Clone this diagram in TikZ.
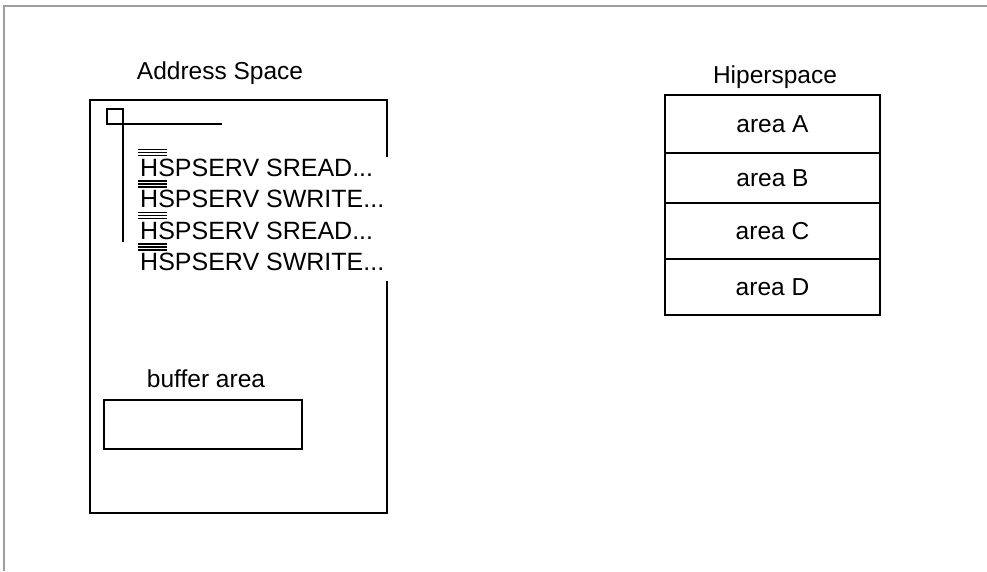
\documentclass[tikz,border=0pt]{standalone}
\usepackage{fontspec}
\setmainfont{Liberation Sans}
\begin{document}
\begin{tikzpicture}[x=1pt,y=-1pt,
  lbl/.style={font=\fontsize{24.5}{28}\selectfont, inner sep=0pt},
  cmd/.style={font=\fontsize{25}{28}\selectfont, inner sep=0pt},
  cell/.style={draw, line width=2.2pt, minimum width=215pt, inner sep=0pt, font=\fontsize{24.5}{28}\selectfont},
  bar/.style={line width=1.3pt},
  frameline/.style={draw=gray!75, line width=2pt},
  heavy/.style={line width=2.2pt}]
\useasboundingbox (0,0) rectangle (987,571);
% outer frame
\coordinate (fa) at (4,571);
\coordinate (fb) at (4,6);
\coordinate (fc) at (987,6);
\draw[frameline] (fa) -- (fb) -- (fc);

% Address space
\node[lbl, anchor=base] (aslbl) at (220,79) {Address Space};
\coordinate (r1) at (387,157);
\coordinate (r2) at (387,100);
\coordinate (r3) at (90,100);
\coordinate (r4) at (90,513);
\coordinate (r5) at (387,513);
\coordinate (r6) at (387,281);
\draw[heavy, line join=miter] (r1) -- (r2) -- (r3) -- (r4) -- (r5) -- (r6);

% small square and lines
\coordinate (sq1) at (107,109);
\coordinate (sq2) at (123,124);
\draw[heavy] (sq1) rectangle (sq2);
\coordinate (vtop) at (123,109);
\coordinate (vbot) at (123,242);
\draw[heavy] (vtop) -- (vbot);
\coordinate (hend) at (222,124);
\draw[heavy] (sq2) -- (hend);

% HSPSERV lines
\node[cmd, anchor=base west] (l1) at (140,176) {HSPSERV SREAD...};
\node[cmd, anchor=base west] (l2) at (140,207.5) {HSPSERV SWRITE...};
\node[cmd, anchor=base west] (l3) at (140,239) {HSPSERV SREAD...};
\node[cmd, anchor=base west] (l4) at (140,270.5) {HSPSERV SWRITE...};
\foreach \b in {176,207.5,239,270.5}{
  \foreach \o in {26.5,23.5,20.5}{
    \draw[bar] (138.3,\b-\o) -- (166.7,\b-\o);
  }
}

% buffer area
\node[lbl, anchor=base] (buflbl) at (206,387) {buffer area};
\node[draw, line width=2.2pt, minimum width=198pt, minimum height=49pt, inner sep=0pt] (buf) at (203,424.5) {};

% Hiperspace
\node[lbl, anchor=base] (hslbl) at (775,83) {Hiperspace};
\node[cell, minimum height=58pt] (ca) at (772.5,124) {area A};
\node[cell, minimum height=50pt] (cb) at (772.5,178) {area B};
\node[cell, minimum height=56pt] (cc) at (772.5,231) {area C};
\node[cell, minimum height=56pt] (cd) at (772.5,287) {area D};
\end{tikzpicture}
\end{document}
